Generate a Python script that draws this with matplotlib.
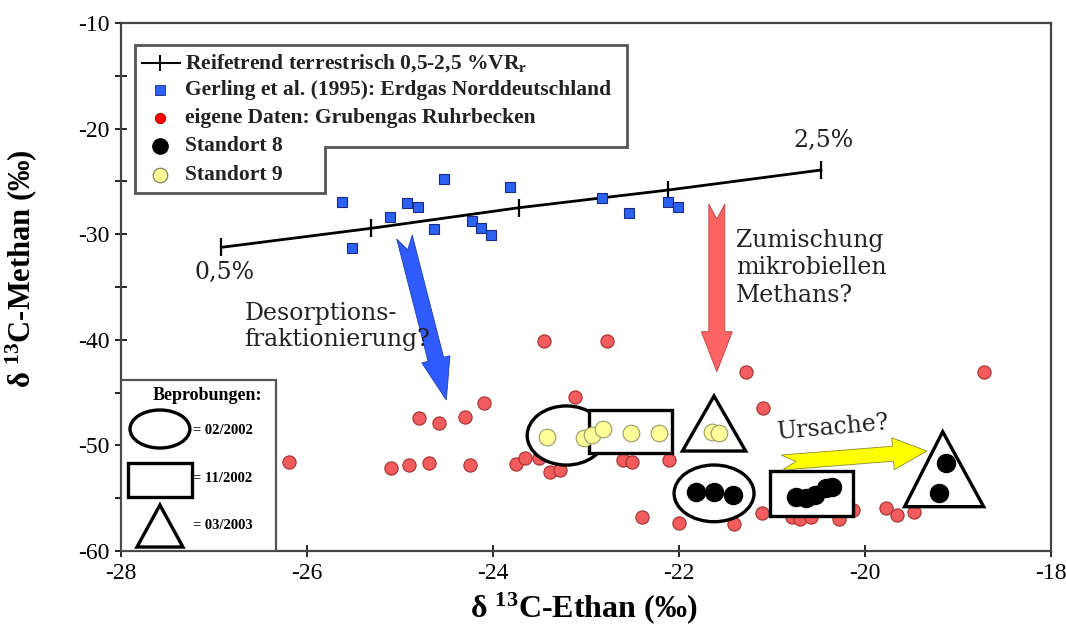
"""Isotopic composition of methane vs ethane: Grubengas Ruhrbecken vs Erdgas Norddeutschland."""

import matplotlib
import matplotlib.pyplot as plt
import numpy as np
from matplotlib.patches import Ellipse, Polygon, Rectangle

matplotlib.use("Agg")

plt.rcParams["font.family"] = ["Liberation Serif", "DejaVu Serif"]
plt.rcParams["axes.unicode_minus"] = False
plt.rcParams["mathtext.fontset"] = "custom"
plt.rcParams["mathtext.rm"] = "Liberation Serif:bold"
plt.rcParams["mathtext.it"] = "Liberation Serif:bold"
plt.rcParams["mathtext.bf"] = "Liberation Serif:bold"

# maturity trend, terrestrial, 0.5 - 2.5 %VRr
trend_ethan = [-26.92, -25.31, -23.72, -22.11, -20.47]
trend_methan = [-31.24, -29.44, -27.49, -25.81, -23.92]

# Gerling et al. (1995)
gerling_ethan = [-25.62, -25.52, -25.11, -24.92, -24.81, -24.52, -24.63, -24.22,
                 -24.13, -24.02, -23.81, -22.82, -22.53, -22.12, -22.01]
gerling_methan = [-26.98, -31.34, -28.34, -27.07, -27.40, -24.80, -29.54, -28.72,
                  -29.44, -30.08, -25.56, -26.60, -28.02, -26.92, -27.40]

# own data, mine gas Ruhr basin
ruhr_ethan = [-23.45, -23.12, -24.10, -24.30, -24.79, -24.58, -26.19, -25.09, -24.90,
              -24.69, -24.25, -23.75, -23.65, -23.50, -23.39, -23.28, -22.77, -22.60,
              -22.50, -22.10, -21.28, -21.09, -18.72, -22.39, -22.00, -21.41, -21.10,
              -20.78, -20.69, -20.58, -20.28, -20.12, -19.77, -19.65, -19.47]
ruhr_methan = [-40.11, -45.44, -46.01, -47.28, -47.43, -47.91, -51.54, -52.11, -51.86,
               -51.70, -51.86, -51.76, -51.16, -51.19, -52.49, -52.33, -40.11, -51.38,
               -51.54, -51.38, -43.02, -46.49, -43.02, -56.75, -57.38, -57.44, -56.37,
               -56.75, -57.00, -56.75, -57.00, -56.10, -55.90, -56.59, -56.28]

st9_ethan = [-23.42, -23.02, -22.93, -22.81, -22.51, -22.21, -21.64, -21.57]
st9_methan = [-49.23, -49.33, -49.02, -48.48, -48.85, -48.85, -48.70, -48.80]

st8_ethan = [-21.81, -21.62, -21.42, -20.74, -20.63, -20.53, -20.42, -20.35, -19.13, -19.20]
st8_methan = [-54.38, -54.38, -54.70, -54.86, -55.01, -54.70, -54.06, -53.91, -51.70, -54.48]

legend_labels = [
    "Reifetrend terrestrisch 0,5-2,5 %VR$_r$",
    "Gerling et al. (1995): Erdgas Norddeutschland",
    "eigene Daten: Grubengas Ruhrbecken",
    "Standort 8",
    "Standort 9",
]
sampling_labels = ["= 02/2002", "= 11/2002", "= 03/2003"]

RED = "#f25c5c"
BLUE = "#2b62f2"
YELLOW = "#ffff99"


def notched_arrow(ax, tail, tip, shaft_w, head_w, head_len, notch, **kw):
    # widths in pixels, tail/tip in data coords
    T = ax.transData
    p0 = np.array(T.transform(tail))
    p1 = np.array(T.transform(tip))
    d = p1 - p0
    u = d / np.hypot(*d)
    n = np.array([-u[1], u[0]])
    hb = p1 - u * head_len
    pts = [p0 + n * shaft_w / 2, hb + n * shaft_w / 2, hb + n * head_w / 2, p1,
           hb - n * head_w / 2, hb - n * shaft_w / 2, p0 - n * shaft_w / 2, p0 + u * notch]
    ax.add_patch(Polygon(T.inverted().transform(pts), closed=True, **kw))


fig = plt.figure(figsize=(10.66, 6.33), dpi=100)
ax = fig.add_axes([0.1135, 0.1295, 0.872, 0.8341])
ax.set_xlim(-28, -18)
ax.set_ylim(-60, -10)
ax.set_xticks(np.arange(-28, -17, 2))
ax.set_yticks(np.arange(-60, -9, 10))
ax.set_yticks(np.arange(-55, -10, 10), minor=True)
ax.tick_params(direction="inout", length=9, width=1.2, labelsize=17, pad=4)
ax.tick_params(which="minor", direction="inout", length=8, width=1.2)
for sp in ax.spines.values():
    sp.set_linewidth(1.6)
    sp.set_color("#444444")

ax.set_xlabel("δ $^{13}$C-Ethan (‰)", fontsize=23, fontweight="bold")
ax.set_ylabel("δ $^{13}$C-Methan (‰)", fontsize=22, fontweight="bold")
ax.xaxis.set_label_coords(0.498, -0.075)
ax.yaxis.set_label_coords(-0.088, 0.535)

# data
ax.plot(trend_ethan, trend_methan, color="black", lw=2, marker="|", ms=13, mew=1.6, zorder=2)
ax.plot(gerling_ethan, gerling_methan, ls="none", marker="s", ms=7.5, mfc=BLUE,
        mec="#1a2a80", mew=0.8, zorder=3)
ax.plot(ruhr_ethan, ruhr_methan, ls="none", marker="o", ms=9.5, mfc=RED,
        mec="#a03030", mew=0.8, zorder=3)

# sampling outlines
shape_kw = dict(facecolor="white", edgecolor="black", lw=2.4, zorder=4)
ax.add_patch(Ellipse((-23.21, -49.06), 0.84, 5.6, **shape_kw))
ax.add_patch(Rectangle((-22.96, -50.75), 0.89, 4.1, **shape_kw))
ax.add_patch(Polygon([(-21.62, -45.32), (-21.96, -50.53), (-21.28, -50.53)], **shape_kw))
ax.add_patch(Ellipse((-21.62, -54.54), 0.86, 5.37, **shape_kw))
ax.add_patch(Rectangle((-21.02, -56.69), 0.89, 4.29, **shape_kw))
ax.add_patch(Polygon([(-19.16, -48.70), (-19.57, -55.80), (-18.72, -55.80)], **shape_kw))

ax.plot(st9_ethan, st9_methan, ls="none", marker="o", ms=12, mfc=YELLOW,
        mec="#999966", mew=0.8, zorder=5)
ax.plot(st8_ethan, st8_methan, ls="none", marker="o", ms=13, mfc="black",
        mec="black", zorder=5)

# arrows
notched_arrow(ax, (-24.95, -30.27), (-24.50, -45.70), 16, 29, 42, 13,
              facecolor="#2f5bff", edgecolor="#1f3fb0", lw=0.6, zorder=6)
notched_arrow(ax, (-21.59, -27.14), (-21.59, -43.02), 16, 31, 40, 15,
              facecolor="#ff6464", edgecolor="#c04040", lw=0.6, zorder=6)
notched_arrow(ax, (-20.89, -51.62), (-19.33, -50.53), 15, 32, 34, 14,
              facecolor="#ffff00", edgecolor="#8a8a30", lw=0.6, zorder=6)

# annotations
note_kw = dict(family="DejaVu Serif", fontsize=17, color="#222222", zorder=7)
ax.text(-26.89, -33.58, "0,5%", ha="center", va="center", **note_kw)
ax.text(-20.44, -21.08, "2,5%", ha="center", va="center", **note_kw)
ax.text(-21.38, -29.5, "Zumischung\nmikrobiellen\nMethans?", ha="left", va="top",
        linespacing=1.25, **note_kw)
ax.text(-26.67, -36.4, "Desorptions-\nfraktionierung?", ha="left", va="top",
        linespacing=1.2, **note_kw)
ax.text(-20.34, -48.3, "Ursache?", ha="center", va="center", rotation=5, **note_kw)

# legend with stepped frame
frame = [(0.015, 0.958), (0.5446, 0.958), (0.5446, 0.765), (0.219, 0.765),
         (0.219, 0.678), (0.015, 0.678)]
ax.add_patch(Polygon(frame, closed=True, transform=ax.transAxes, facecolor="white",
                     edgecolor="#555555", lw=2, zorder=8))
rows = [0.9242, 0.8731, 0.8201, 0.7670, 0.7121]
mx, tx = 0.0419, 0.0687
lk = dict(transform=ax.transAxes, ls="none", zorder=9, clip_on=False)
ax.plot([0.0226, 0.0634], [rows[0]] * 2, color="black", lw=1.5, transform=ax.transAxes, zorder=9)
ax.plot(mx, rows[0], marker="|", ms=11, mew=1.5, color="black", **lk)
ax.plot(mx, rows[1], marker="s", ms=7.5, mfc=BLUE, mec="#1a2a80", mew=0.6, **lk)
ax.plot(mx, rows[2], marker="o", ms=7.5, mfc="#ff0000", mec="#900000", mew=0.6, **lk)
ax.plot(mx, rows[3], marker="o", ms=11, mfc="black", mec="black", **lk)
ax.plot(mx, rows[4], marker="o", ms=10.5, mfc=YELLOW, mec="#777755", mew=0.8, **lk)
for y, lab in zip(rows, legend_labels):
    ax.text(tx, y, lab, transform=ax.transAxes, ha="left", va="center",
            fontsize=15.5, fontweight="bold", color="#222222", zorder=9)

# sampling legend
ax.add_patch(Rectangle((0, 0), 0.1665, 0.324, transform=ax.transAxes, facecolor="white",
                       edgecolor="#555555", lw=1.6, zorder=8))
ax.text(0.0929, 0.2955, "Beprobungen:", transform=ax.transAxes, ha="center", va="center",
        fontsize=13, fontweight="bold", zorder=9)
sk = dict(transform=ax.transAxes, facecolor="white", edgecolor="black", lw=2.4, zorder=9)
ax.add_patch(Ellipse((0.0419, 0.2311), 0.0644, 0.072, **sk))
ax.add_patch(Rectangle((0.0075, 0.1023), 0.0688, 0.0644, **sk))
ax.add_patch(Polygon([(0.0419, 0.0871), (0.0172, 0.0076), (0.0666, 0.0076)], **sk))
for y, lab in zip([0.229, 0.138, 0.049], sampling_labels):
    ax.text(0.0773, y, lab, transform=ax.transAxes, ha="left", va="center",
            fontsize=10.5, fontweight="bold", zorder=9)

fig.savefig("out.png", dpi=100)
